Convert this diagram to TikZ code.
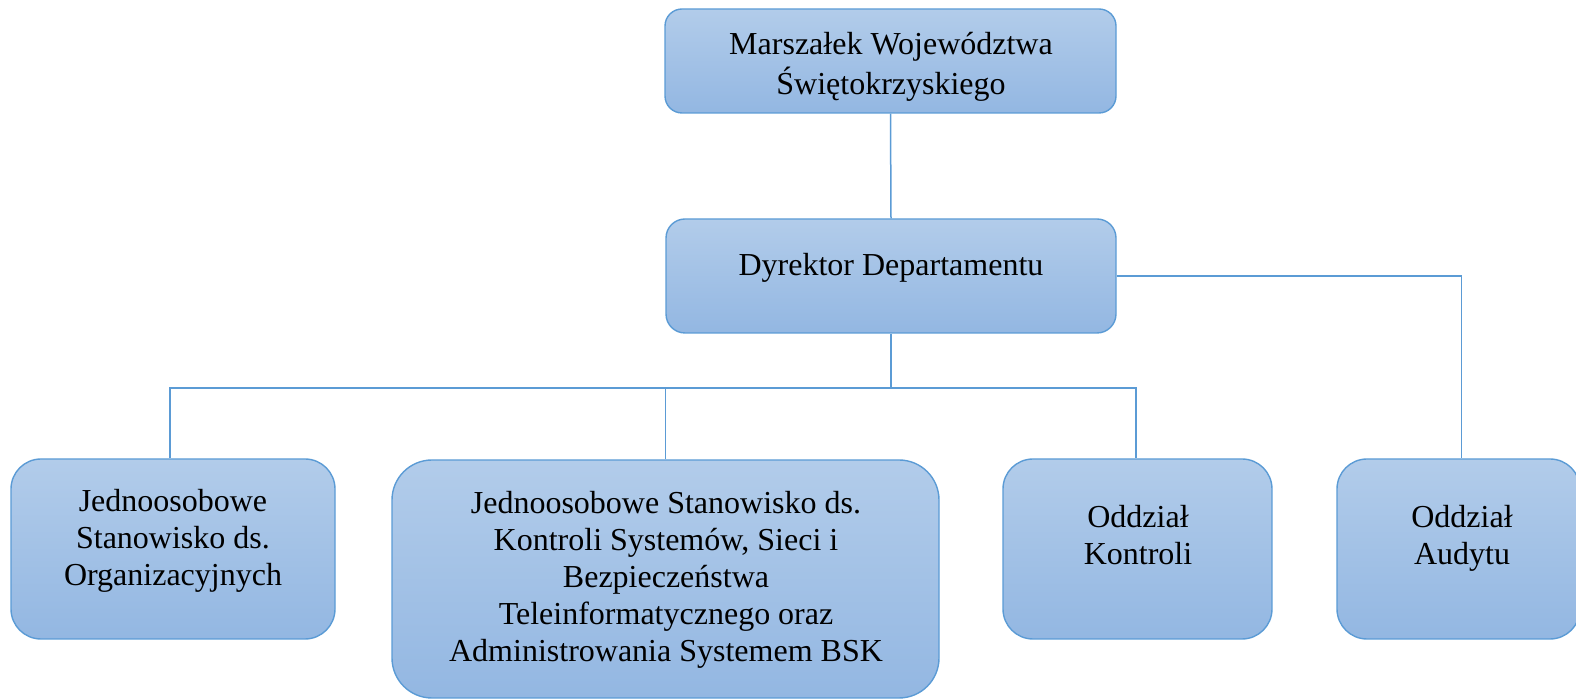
\documentclass[tikz,border=0pt]{standalone}
\usepackage{fontspec}
\setmainfont{Liberation Serif}
\definecolor{boxtop}{HTML}{B2CCEA}
\definecolor{boxbot}{HTML}{93B7E2}
\definecolor{edge}{HTML}{5B9BD5}
\newcommand{\sline}[1]{\strut #1}
\begin{document}
\begin{tikzpicture}[x=0.5pt,y=-0.5pt,
  orgbox/.style={draw=edge, line width=0.7pt, top color=boxtop, bottom color=boxbot, inner sep=0pt},
  txt/.style={align=center, inner sep=0pt, font=\fontsize{16}{18.5}\selectfont},
  conn/.style={draw=edge, line width=0.75pt}]
\useasboundingbox (0,0) rectangle (1576,699);
% boxes
\node[orgbox, minimum width=225.5pt, minimum height=52pt, rounded corners=8.5pt] (top) at (890.5,61) {};
\node[orgbox, minimum width=225pt, minimum height=57pt, rounded corners=9.5pt] (dir) at (891,276) {};
\node[orgbox, minimum width=162pt, minimum height=90pt, rounded corners=15pt] (b1) at (173,549) {};
\node[orgbox, minimum width=273.5pt, minimum height=119pt, rounded corners=20pt] (b2) at (665.5,579) {};
\node[orgbox, minimum width=134.5pt, minimum height=90pt, rounded corners=15pt] (b3) at (1137.5,549) {};
\node[orgbox, minimum width=121.5pt, minimum height=90pt, rounded corners=15pt] (b4) at (1458.5,549) {};
% texts
\node[txt] (topt) at (891,67) {\sline{Marszałek Województwa}\\\sline{Świętokrzyskiego}};
\node[txt] (dirt) at (891,268) {\sline{Dyrektor Departamentu}};
\node[txt] (b1t) at (173,541) {\sline{Jednoosobowe}\\\sline{Stanowisko ds.}\\\sline{Organizacyjnych}};
\node[txt] (b2t) at (666,580) {\sline{Jednoosobowe Stanowisko ds.}\\\sline{Kontroli Systemów, Sieci i}\\\sline{Bezpieczeństwa}\\\sline{Teleinformatycznego oraz}\\\sline{Administrowania Systemem BSK}};
\node[txt] (b3t) at (1138,539) {\sline{Oddział}\\\sline{Kontroli}};
\node[txt] (b4t) at (1462,539) {\sline{Oddział}\\\sline{Audytu}};
% connectors
\coordinate (bus) at (891,388);
\draw[conn] (top.south) -- (dir.north);
\draw[conn] (dir.south) -- (dir.south |- bus);
\draw[conn] ([xshift=-1.5pt]b1.north) -- ([xshift=-1.5pt]b1.north |- bus) -- ([xshift=-0.75pt]b3.north |- bus) -- ([xshift=-0.75pt]b3.north);
\draw[conn] (b2.north) -- (b2.north |- bus);
\draw[conn] (dir.east) -| ([xshift=1.5pt]b4.north);
\end{tikzpicture}
\end{document}
